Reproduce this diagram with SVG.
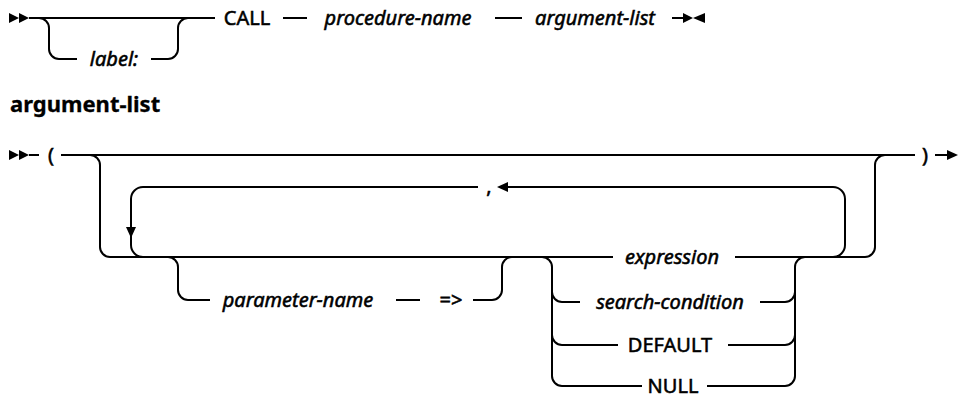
<svg xmlns="http://www.w3.org/2000/svg" width="960" height="396" viewBox="0 0 960 396">
<style>
.ln{fill:none;stroke:#000;stroke-width:2}
.ah{fill:#000;stroke:none}
text{font-family:"Noto Sans","Liberation Sans",sans-serif;font-size:20px;fill:#000;stroke:#000;stroke-width:0.55}
.v{font-style:italic}
.k{text-anchor:middle}
.h{font-weight:bold;font-size:22px;stroke-width:0.3}
</style>
<rect width="960" height="396" fill="#fff"/>
<g id="connectors">
  <!-- row 1 -->
  <polygon class="ah" points="9,13 19,18 9,23"/>
  <polygon class="ah" points="19,13 29,18 19,23"/>
  <path class="ln" d="M29 18 H215"/>
  <path class="ln" d="M39 18 A10 10 0 0 1 49 28 V49 A10 10 0 0 0 59 59 H77"/>
  <path class="ln" d="M151 59 H168 A10 10 0 0 0 178 49 V28 A10 10 0 0 1 188 18"/>
  <path class="ln" d="M283 18 H307"/>
  <path class="ln" d="M495 18 H522"/>
  <path class="ln" d="M672 18 H683"/>
  <polygon class="ah" points="683,13 693,18 683,23"/>
  <polygon class="ah" points="705,13 693,18 705,23"/>
  <!-- row 2 -->
  <polygon class="ah" points="9,150 19,155 9,160"/>
  <polygon class="ah" points="19,150 29,155 19,160"/>
  <path class="ln" d="M29 155 H39"/>
  <path class="ln" d="M61 155 H915"/>
  <path class="ln" d="M935 155 H947"/>
  <polygon class="ah" points="947,150 958,155 947,160"/>
  <path class="ln" d="M90 155 A10 10 0 0 1 100 165 V247 A10 10 0 0 0 110 257 H613"/>
  <path class="ln" d="M735 257 H865 A10 10 0 0 0 875 247 V165 A10 10 0 0 1 885 155"/>
  <path class="ln" d="M833 257 A12 12 0 0 0 845 245 V199 A12 12 0 0 0 833 187 H508"/>
  <polygon class="ah" points="508,182 497,187 508,192"/>
  <path class="ln" d="M478 187 H143 A12 12 0 0 0 131 199 V245 A12 12 0 0 0 143 257"/>
  <polygon class="ah" points="126,227 136,227 131,238"/>
  <path class="ln" d="M168 257 A10 10 0 0 1 178 267 V290 A10 10 0 0 0 188 300 H210"/>
  <path class="ln" d="M396 300 H420"/>
  <path class="ln" d="M473 300 H492 A10 10 0 0 0 502 290 V267 A10 10 0 0 1 512 257"/>
  <path class="ln" d="M542 257 A10 10 0 0 1 552 267 V376 A10 10 0 0 0 562 386 H642"/>
  <path class="ln" d="M552 292 A10 10 0 0 0 562 302 H580"/>
  <path class="ln" d="M552 335 A10 10 0 0 0 562 345 H618"/>
  <path class="ln" d="M707 386 H785 A10 10 0 0 0 795 376 V267 A10 10 0 0 1 805 257"/>
  <path class="ln" d="M760 302 H785 A10 10 0 0 0 795 292"/>
  <path class="ln" d="M728 345 H785 A10 10 0 0 0 795 335"/>
</g>
<g id="label"><text class="v k" x="114" y="66">label:</text></g>
<g id="call"><text class="k" x="247" y="25">CALL</text></g>
<g id="procedure-name"><text class="v k" x="398" y="25">procedure-name</text></g>
<g id="argument-list-ref"><text class="v k" x="595" y="25">argument-list</text></g>
<g id="heading"><text class="h" x="10" y="112">argument-list</text></g>
<g id="lparen"><text class="k" x="51" y="162">(</text></g>
<g id="rparen"><text class="k" x="925" y="162">)</text></g>
<g id="comma"><text class="k" x="489" y="193">,</text></g>
<g id="parameter-name"><text class="v k" x="298" y="307">parameter-name</text></g>
<g id="arrow-op"><text class="k" x="451" y="307">=&gt;</text></g>
<g id="expression"><text class="v k" x="672" y="264">expression</text></g>
<g id="search-condition"><text class="v k" x="670" y="309">search-condition</text></g>
<g id="default"><text class="k" x="670" y="352">DEFAULT</text></g>
<g id="null"><text class="k" x="673" y="393">NULL</text></g>
</svg>
